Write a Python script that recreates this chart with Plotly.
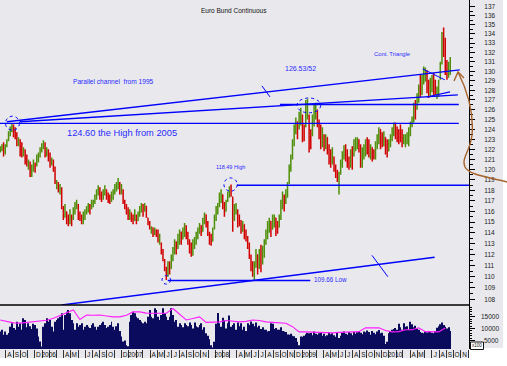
import math
import pandas as pd
import plotly.graph_objects as go

TITLE = "Euro Bund Continuous"
WEEK_START = "2005-07-08"

opens = [
    121.8, 121.9, 122.5, 121.6, 122.3, 122.9, 123.5, 124.0, 124.3, 123.4,
    123.2, 122.5, 122.9, 121.6, 121.4, 121.9, 120.8, 120.3, 120.7, 119.5,
    120.2, 120.6, 120.4, 121.0, 121.4, 121.9, 122.2, 122.6, 121.4, 121.9,
    121.1, 120.5, 120.9, 120.1, 118.5, 118.7, 117.9, 118.2, 116.4, 115.6,
    116.0, 115.3, 114.9, 115.6, 115.3, 116.0, 116.4, 116.6, 115.8, 115.5,
    114.9, 115.5, 115.9, 116.1, 116.6, 116.3, 116.6, 116.9, 117.3, 117.8,
    118.2, 117.4, 117.2, 117.8, 118.0, 117.4, 117.1, 117.0, 117.6, 117.9,
    118.3, 118.6, 118.7, 117.8, 118.0, 116.9, 116.4, 115.9, 115.4, 115.9,
    115.2, 115.2, 115.6, 115.2, 115.8, 116.2, 116.6, 116.0, 116.5, 115.4,
    114.9, 114.1, 114.5, 113.8, 114.3, 113.8, 113.1, 113.0, 112.2, 111.4,
    110.6, 110.1, 111.2, 110.8, 111.8, 112.4, 113.2, 112.6, 113.5, 114.1,
    113.4, 114.0, 114.6, 113.6, 113.1, 112.3, 112.0, 112.9, 113.3, 113.8,
    114.2, 114.7, 114.1, 115.2, 115.7, 114.7, 113.9, 113.2, 113.2, 114.4,
    115.4, 116.1, 116.6, 117.3, 117.6, 116.6, 116.0, 117.0, 117.6, 118.3,
    117.4, 115.2, 116.2, 116.1, 115.3, 115.0, 114.1, 114.8, 113.8, 113.3,
    113.0, 111.9, 110.8, 110.1, 111.1, 112.0, 110.8, 112.4, 111.2, 112.2,
    113.2, 113.8, 114.5, 115.1, 114.3, 115.0, 115.4, 114.5, 114.5, 115.5,
    116.7, 117.5, 116.8, 117.8, 118.7, 120.2, 121.2, 122.7, 124.0, 124.8,
    124.0, 125.1, 125.4, 123.8, 124.4, 125.5, 125.4, 122.8, 123.4, 125.0,
    125.8, 126.0, 124.8, 123.6, 122.4, 123.4, 122.1, 123.2, 122.0, 121.2,
    120.6, 121.2, 120.3, 119.8, 118.8, 119.7, 120.6, 121.3, 122.3, 121.3,
    120.9, 120.3, 122.0, 121.4, 122.2, 122.4, 123.0, 122.1, 120.4, 121.3,
    121.8, 123.0, 122.2, 121.2, 122.2, 121.5, 121.2, 122.3, 122.9, 124.0,
    123.1, 122.5, 123.2, 122.2, 121.8, 122.5, 123.0, 123.6, 124.6, 123.8,
    123.6, 124.2, 123.5, 122.6, 122.5, 122.8, 122.5, 123.6, 124.4, 125.0,
    126.8, 126.2, 127.0, 129.3, 127.8, 128.9, 129.3, 130.0, 128.6, 127.6,
    128.2, 129.6, 128.5, 127.4, 127.8, 129.3, 131.0, 134.2, 133.0, 131.0,
    129.5, 130.2,
]
highs = [
    122.3, 122.5, 122.7, 122.5, 123.0, 123.8, 124.3, 124.6, 124.5, 124.2,
    123.7, 123.2, 123.0, 122.7, 122.2, 122.0, 121.5, 121.0, 120.8, 120.5,
    121.0, 120.7, 121.5, 121.7, 122.2, 122.6, 122.9, 122.7, 122.2, 122.0,
    121.7, 121.2, 121.0, 120.3, 119.0, 118.8, 118.6, 118.3, 116.5, 116.7,
    116.0, 115.7, 116.2, 115.7, 116.4, 116.9, 117.1, 116.7, 116.0, 115.7,
    116.0, 116.2, 116.5, 116.8, 116.7, 117.1, 117.1, 117.6, 118.1, 118.5,
    118.3, 117.9, 118.1, 118.5, 118.1, 117.8, 117.6, 117.9, 118.1, 118.6,
    118.8, 119.2, 118.8, 118.6, 118.1, 117.1, 116.7, 116.4, 116.2, 115.9,
    115.7, 116.2, 115.7, 116.0, 116.5, 116.8, 116.7, 116.8, 116.5, 115.4,
    115.1, 114.6, 114.5, 114.5, 114.3, 114.3, 113.9, 113.1, 112.5, 111.6,
    110.9, 111.4, 111.4, 112.0, 112.7, 113.4, 113.2, 113.9, 114.3, 114.1,
    114.5, 114.9, 114.7, 114.1, 113.4, 113.1, 113.4, 113.6, 114.1, 114.5,
    114.9, 114.7, 115.4, 115.9, 115.7, 115.1, 114.1, 113.9, 114.5, 115.7,
    116.5, 116.8, 117.8, 118.1, 117.6, 116.9, 117.1, 117.9, 118.4, 118.56,
    117.4, 116.7, 116.8, 116.2, 115.7, 115.2, 115.1, 114.8, 114.3, 113.7,
    113.1, 112.0, 111.4, 111.4, 112.5, 112.0, 112.5, 112.9, 112.8, 113.4,
    114.3, 115.1, 115.4, 115.1, 115.7, 115.7, 115.4, 115.1, 115.7, 117.1,
    117.9, 117.6, 118.1, 118.8, 120.5, 121.5, 123.0, 124.5, 125.2, 124.8,
    125.8, 126.2, 125.5, 124.5, 127.0, 127.1, 125.5, 124.0, 125.5, 126.5,
    126.7, 126.0, 125.0, 124.5, 124.2, 123.5, 123.5, 123.2, 122.5, 122.0,
    122.2, 121.3, 120.5, 120.0, 119.8, 121.0, 121.8, 122.4, 122.5, 122.0,
    121.3, 122.0, 122.3, 123.0, 123.2, 123.2, 123.0, 122.5, 122.2, 122.5,
    123.0, 123.2, 123.0, 122.5, 122.2, 122.0, 122.8, 123.5, 124.2, 124.0,
    123.7, 123.8, 123.2, 123.0, 123.0, 123.5, 124.2, 124.7, 124.7, 124.3,
    124.0, 124.5, 124.0, 123.5, 123.5, 123.7, 124.2, 124.8, 125.3, 126.7,
    127.0, 127.7, 128.6, 129.6, 129.6, 130.5, 130.4, 130.1, 129.1, 129.3,
    129.6, 129.8, 129.1, 128.4, 129.1, 131.0, 134.2, 134.7, 133.6, 131.2,
    131.0, 131.5,
]
lows = [
    121.7, 121.8, 121.3, 121.5, 122.2, 122.8, 123.3, 123.7, 123.2, 123.0,
    122.3, 122.3, 121.3, 121.2, 121.3, 120.5, 120.3, 120.0, 119.3, 119.3,
    119.8, 119.7, 120.3, 120.7, 121.2, 121.7, 122.0, 121.2, 121.3, 120.8,
    120.2, 120.4, 119.8, 118.6, 118.1, 117.8, 117.6, 116.2, 115.2, 115.4,
    114.8, 114.6, 114.8, 114.6, 115.2, 115.7, 116.2, 115.2, 115.1, 114.8,
    114.8, 115.2, 115.7, 115.9, 115.7, 116.2, 116.4, 116.7, 117.1, 117.5,
    117.1, 116.9, 117.1, 117.5, 117.1, 116.8, 116.7, 116.9, 117.1, 117.6,
    117.9, 118.1, 117.6, 117.6, 116.7, 116.2, 115.7, 115.2, 115.2, 115.0,
    114.8, 115.1, 114.8, 115.1, 115.5, 115.9, 115.5, 116.0, 115.4, 114.7,
    114.3, 113.9, 113.6, 113.8, 113.6, 113.1, 112.9, 112.0, 111.4, 110.5,
    109.7, 110.0, 110.2, 110.7, 111.4, 112.0, 112.0, 112.5, 112.9, 112.9,
    113.4, 113.6, 113.4, 112.9, 112.1, 111.8, 111.9, 112.5, 112.9, 113.4,
    113.9, 113.7, 114.1, 114.8, 114.5, 113.7, 112.9, 112.8, 113.2, 114.3,
    115.1, 115.7, 116.4, 116.8, 116.2, 115.5, 116.0, 116.9, 117.3, 117.4,
    114.1, 115.1, 115.7, 114.5, 114.6, 113.9, 114.1, 113.4, 113.2, 112.5,
    111.6, 110.5, 110.0, 109.7, 110.8, 110.2, 110.7, 110.4, 111.1, 111.7,
    112.9, 113.4, 114.0, 113.6, 114.3, 114.5, 113.7, 113.9, 114.5, 115.2,
    116.2, 116.0, 116.7, 117.3, 118.6, 119.8, 121.0, 122.3, 123.5, 123.0,
    124.0, 124.4, 122.7, 122.8, 124.2, 125.0, 121.7, 122.0, 123.3, 124.3,
    125.0, 124.2, 123.0, 122.0, 122.2, 121.8, 122.0, 121.5, 120.5, 120.2,
    120.5, 119.8, 119.2, 118.8, 117.6, 119.5, 120.2, 121.0, 120.8, 120.2,
    120.0, 120.2, 120.0, 121.3, 121.8, 122.0, 121.7, 120.2, 120.2, 121.0,
    121.3, 121.5, 121.2, 121.0, 120.8, 121.0, 121.0, 122.0, 122.5, 122.0,
    122.2, 122.3, 121.5, 121.2, 121.8, 122.2, 122.8, 123.3, 123.0, 122.7,
    122.5, 122.7, 122.2, 122.5, 122.2, 122.5, 122.3, 123.3, 124.2, 124.7,
    125.0, 126.0, 126.7, 127.3, 127.5, 128.6, 128.9, 127.7, 127.2, 127.3,
    127.8, 127.3, 127.5, 127.1, 127.3, 129.1, 130.7, 131.5, 129.6, 129.1,
    129.3, 129.6,
]
closes = [
    122.2, 122.4, 121.5, 122.3, 122.8, 123.6, 124.1, 124.4, 123.4, 123.1,
    122.5, 123.0, 121.5, 121.4, 122.0, 120.7, 120.4, 120.8, 119.5, 120.3,
    120.8, 119.9, 121.3, 121.5, 122.0, 122.4, 122.7, 121.4, 122.0, 121.0,
    120.4, 121.0, 120.0, 118.8, 118.9, 118.0, 118.4, 116.5, 115.4, 116.4,
    115.0, 114.7, 116.0, 114.8, 116.2, 116.8, 117.0, 115.4, 115.2, 114.9,
    115.8, 116.1, 116.4, 116.7, 115.9, 117.0, 117.0, 117.5, 118.0, 118.3,
    117.3, 117.0, 117.9, 118.3, 117.3, 117.0, 116.8, 117.7, 118.0, 118.4,
    118.7, 119.0, 117.8, 118.4, 116.8, 116.3, 115.8, 115.3, 116.0, 115.1,
    114.9, 116.0, 114.9, 115.9, 116.4, 116.7, 115.7, 116.7, 115.5, 114.8,
    114.4, 114.5, 113.7, 114.4, 113.7, 113.2, 113.8, 112.1, 111.5, 110.6,
    110.0, 111.2, 110.4, 111.9, 112.5, 113.2, 112.1, 113.7, 114.2, 113.1,
    114.3, 114.7, 113.5, 113.0, 112.2, 112.0, 113.2, 113.4, 114.0, 114.4,
    114.8, 113.8, 115.3, 115.8, 114.6, 113.8, 113.0, 112.9, 114.3, 115.6,
    116.3, 116.7, 117.6, 118.0, 116.4, 115.7, 117.0, 117.8, 118.2, 117.5,
    114.5, 116.5, 116.7, 114.7, 114.8, 114.0, 115.0, 113.5, 113.3, 112.6,
    111.8, 110.7, 110.1, 111.2, 112.3, 110.5, 112.2, 110.6, 112.6, 113.2,
    114.1, 114.9, 115.2, 113.8, 115.5, 115.6, 114.0, 114.0, 115.5, 116.9,
    117.6, 116.2, 117.9, 118.6, 120.3, 121.3, 122.8, 124.2, 125.0, 123.2,
    125.6, 126.0, 123.0, 123.0, 126.6, 126.8, 122.0, 122.3, 125.2, 126.2,
    126.5, 124.5, 123.2, 122.3, 123.9, 122.0, 123.3, 121.7, 120.8, 120.4,
    122.0, 120.0, 119.4, 119.0, 119.6, 120.8, 121.6, 122.2, 121.0, 120.4,
    120.1, 121.8, 120.3, 122.8, 123.0, 123.1, 121.9, 120.5, 121.9, 122.3,
    122.8, 121.7, 121.4, 122.3, 121.0, 121.1, 122.6, 123.3, 124.0, 122.3,
    122.4, 123.6, 121.7, 121.4, 122.8, 123.3, 124.0, 124.5, 123.2, 122.9,
    122.7, 122.9, 122.4, 123.3, 123.3, 123.5, 124.0, 124.6, 125.1, 126.5,
    125.3, 127.5, 128.3, 127.6, 129.3, 130.2, 130.2, 128.0, 127.5, 129.0,
    129.4, 127.6, 127.7, 128.2, 128.9, 130.7, 133.9, 131.8, 130.0, 129.4,
    130.7, 131.2,
]
volume = [
    8800, 9500, 7400, 8800, 7400, 8100, 10800, 12200, 10200, 9500,
    12900, 10800, 12200, 9500, 14300, 13600, 10500, 12200, 11000, 9800,
    12000, 11500, 10000, 6700, 4600, 2500, 10800, 12200, 14300, 12900,
    13600, 10800, 8800, 12900, 13600, 14300, 15000, 16400, 9500, 15700,
    17100, 17800, 16400, 13600, 12200, 9500, 12200, 10800, 11500, 12200,
    9500, 10800, 11500, 10800, 10200, 11500, 12200, 10800, 9500, 10800,
    11500, 12200, 12900, 11500, 10200, 10800, 11500, 12900, 10800, 9500,
    11000, 12200, 9000, 6700, 4600, 5000, 3000, 2600, 12900, 15700,
    17100, 16400, 15000, 14300, 13600, 12900, 12200, 12900, 12200, 15000,
    17800, 15000, 14300, 18500, 17800, 15000, 13600, 15700, 18500, 16400,
    15000, 13600, 15000, 18500, 15700, 12900, 13600, 10800, 12200, 11500,
    10500, 12200, 11500, 11000, 12500, 11500, 10000, 12500, 11000, 10500,
    11500, 12200, 9500, 10500, 8000, 7000, 5500, 3000, 2000, 4500,
    12000, 16500, 12200, 10800, 14500, 13500, 10000, 12200, 15500, 10800,
    11500, 12200, 9500, 12500, 11000, 12200, 9500, 10800, 9000, 12200,
    11500, 13000, 12000, 11000, 12500, 10500, 11200, 9800, 10500, 9500,
    9500, 8800, 9000, 12200, 12000, 9800, 10200, 9500, 9500, 10500,
    9000, 8800, 8500, 7500, 7400, 7800, 7000, 6800, 6000, 4500,
    3000, 6700, 6500, 7000, 7600, 8200, 8000, 8100, 7200, 8800,
    7800, 7400, 8000, 8600, 7000, 7800, 6800, 7200, 8400, 7600,
    8000, 7200, 6500, 8600, 6000, 7000, 8200, 8800, 7800, 7400,
    8500, 8000, 7200, 8600, 7800, 8400, 9000, 8200, 7600, 8800,
    8400, 9200, 8600, 7400, 9000, 8200, 7600, 8800, 9400, 8000,
    8200, 7000, 3500, 4500, 8000, 9000, 9500, 9800, 10200, 9500,
    12000, 10500, 9500, 12200, 10800, 11000, 9500, 12900, 11800, 10500,
    11200, 10000, 9500, 8500, 8200, 8000, 8800, 8300, 9000, 8500,
    8200, 8000, 9000, 10300, 11000, 11800, 12500, 11500, 10800, 10000,
    10500, 9000,
]
# volume average line, read every 4th week
volume_avg = [
    13600, 13000, 12400, 12300, 12600, 12800, 12900, 13500, 14300, 15500,
    16800, 17800, 13800, 15700, 15600, 15700, 15300, 14900, 14900, 15600,
    17000, 17000, 16500, 16500, 16500, 16400, 18400, 16000, 13600, 14200,
    14900, 12600, 12600, 12800, 13400, 13200, 12800, 13000, 13600, 13400,
    12800, 12600, 12400, 12200, 10800, 8600, 8600, 8500, 8200, 8200,
    8200, 8400, 8600, 8600, 8700, 10300, 10300, 10300, 9200, 8600,
    8700, 9500, 9500, 10300, 8700, 8600, 8600, 10200,
]

price_ticks = list(range(108, 138))
volume_ticks = [5000, 10000, 15000]

tick_months = ["2005-08", "2005-09", "2005-10", "2005-12",
               "2006-01", "2006-04", "2006-05", "2006-07", "2006-08", "2006-09", "2006-10", "2006-12",
               "2007-01", "2007-04", "2007-05", "2007-06", "2007-07", "2007-08", "2007-09", "2007-10", "2007-11",
               "2008-01", "2008-04", "2008-05", "2008-06", "2008-07", "2008-08", "2008-09", "2008-10", "2008-11", "2008-12",
               "2009-01", "2009-04", "2009-05", "2009-06", "2009-07", "2009-08", "2009-09", "2009-10", "2009-11", "2009-12",
               "2010-01", "2010-04", "2010-05", "2010-07", "2010-08", "2010-09", "2010-10", "2010-11"]
tick_text = ["A", "S", "O", "D",
             "2006", "A", "M", "J", "A", "S", "O", "D",
             "2007", "A", "M", "J", "J", "A", "S", "O", "N",
             "2008", "A", "M", "J", "J", "A", "S", "O", "N", "D",
             "2009", "A", "M", "J", "J", "A", "S", "O", "N", "D",
             "2010", "A", "M", "J", "A", "S", "O", "N"]

# annotation levels (price) and drawn lines (date, price)
level_2005_high = 124.60
level_126 = 126.53
level_2008_high = 118.49
level_2008_low = 109.66
channel_upper = (["2005-08-05", "2010-10-27"], [124.77, 130.14])
channel_middle = (["2005-09-29", "2010-10-19"], [124.77, 127.53])
channel_lower = (["2006-03-24", "2010-07-13"], [107.5, 111.75])
triangle_upper = (["2010-05-24", "2010-08-25"], [130.25, 129.09])
triangle_lower = (["2010-06-10", "2010-09-16"], [127.30, 127.84])
mark_upper = (["2008-07-15", "2008-08-18"], [128.46, 127.32])
mark_lower = (["2009-10-22", "2009-12-28"], [111.93, 110.00])
seg_2005_high = (["2005-07-07", "2010-10-23"], [level_2005_high, level_2005_high])
seg_126 = (["2008-09-29", "2010-10-23"], [level_126, level_126])
seg_2008_high = (["2008-04-01", "2010-12-05"], [level_2008_high, level_2008_high])
seg_2008_low = (["2007-06-14", "2009-02-04"], [level_2008_low, level_2008_low])
circles = [  # (date0, date1, price_low, price_high)
    ("2005-07-30", "2005-09-27", 123.91, 125.33),
    ("2008-02-06", "2008-04-02", 117.92, 119.20),
    ("2007-05-21", "2007-06-26", 109.34, 110.10),
    ("2008-12-10", "2009-03-20", 125.68, 127.20),
]

X_RANGE = ["2005-07-07", "2010-12-05"]
Y_RANGE = [107.5, 137.75]
VOL_RANGE = [1400, 19900]

# ---------------------------------------------------------------
weeks = pd.date_range(WEEK_START, periods=len(closes), freq="7D")
avg_dates = weeks[::4][:len(volume_avg)]

W, H = 507, 366
ML, MR, MT, MB = 0, 38, 0, 17
PW, PH = W - ML - MR, H - MT - MB
SPLIT = 1 - 305 / PH

BG = "#e9e9ed"
GREEN = "#4f8f0a"
RED = "#d00000"
BLUE = "#0000ff"
TXT_BLUE = "#2a2aff"
FONT = "Liberation Sans, Arial, sans-serif"


def P(x, y):
    return x / PW, 1 - y / PH


fig = go.Figure()
fig.add_trace(go.Ohlc(
    x=weeks, open=opens, high=highs, low=lows, close=closes,
    increasing=dict(line=dict(color=GREEN, width=1.5)),
    decreasing=dict(line=dict(color=RED, width=1.5)),
    tickwidth=0.25, xaxis="x", yaxis="y", showlegend=False))

fig.add_trace(go.Bar(x=weeks[:len(volume)], y=volume, marker=dict(color="#0b0b5e", line=dict(width=0)),
                     xaxis="x", yaxis="y2", showlegend=False))
fig.add_trace(go.Scatter(x=avg_dates, y=volume_avg, mode="lines", line=dict(color="#ff1cff", width=1.1),
                         xaxis="x", yaxis="y2", showlegend=False))

for seg, w in [(channel_upper, 1.4), (channel_middle, 1.4), (channel_lower, 1.4),
               (triangle_upper, 1.1), (triangle_lower, 1.1), (mark_upper, 1.0), (mark_lower, 1.0),
               (seg_2005_high, 1.4), (seg_126, 1.4), (seg_2008_high, 1.4), (seg_2008_low, 1.4)]:
    fig.add_trace(go.Scatter(x=seg[0], y=seg[1], mode="lines", line=dict(color=BLUE, width=w),
                             xaxis="x", yaxis="y", showlegend=False, hoverinfo="skip"))

shapes = []
for d0, d1, p0, p1 in circles:
    shapes.append(dict(type="circle", xref="x", yref="y", x0=d0, x1=d1, y0=p0, y1=p1,
                       line=dict(color=BLUE, width=1, dash="dot")))

# separator between price and volume panes
shapes.append(dict(type="line", xref="paper", yref="paper", x0=0, x1=1, y0=SPLIT, y1=SPLIT,
                   line=dict(color="black", width=1.3)))
# gray panels around axes
shapes.append(dict(type="rect", xref="paper", yref="paper", x0=1, x1=503 / PW, y0=1 - 348 / PH, y1=1,
                   fillcolor=BG, line=dict(width=0), layer="below"))
shapes.append(dict(type="rect", xref="paper", yref="paper", x0=0, x1=1, y0=1 - 358 / PH, y1=0,
                   fillcolor=BG, line=dict(width=0), layer="below"))
# x100 box
bx0, by0 = P(470.5, 349.5)
bx1, by1 = P(483.5, 342)
shapes.append(dict(type="rect", xref="paper", yref="paper", x0=bx0, x1=bx1, y0=by0, y1=by1,
                   fillcolor="white", line=dict(color="#111", width=1)))


def path(cmds):
    out = []
    for c in cmds:
        if isinstance(c, str):
            out.append(c)
        else:
            x, y = P(*c)
            out.append(f"{x:.5f},{y:.5f}")
    return " ".join(out)


arrow_curve = path(["M", (458, 72), "C", (466, 88), (474, 112), (472, 135),
                    "C", (470, 152), (461, 158), (465, 167),
                    "C", (469, 175), (488, 177), (507, 182)])
arrow_head = path(["M", (454, 81), "L", (458, 72), "L", (464, 78)])
for p in (arrow_curve, arrow_head):
    shapes.append(dict(type="path", xref="paper", yref="paper", path=p,
                       line=dict(color="#a5622a", width=1.4)))

annotations = []


def label(text, x, y, size, color=TXT_BLUE, **kw):
    px, py = P(x, y)
    annotations.append(dict(text=text, x=px, y=py, xref="paper", yref="paper", showarrow=False,
                            xanchor="center", yanchor="middle",
                            font=dict(family=FONT, size=size, color=color), **kw))


label(TITLE, 234, 10, 6.5, color="#111")
label("Cont. Triangle", 392, 54, 5.8)
label("Parallel channel  from 1995", 113, 82, 6.6)
label("124.60 the High from 2005", 122, 133, 9.3)
label("126.53/52", 300, 68, 7)
label("118.49 High", 230, 167, 5.5)
label("109.66 Low", 330, 279, 6.3)
label("x100", 477, 345.8, 4.5, color="#111")

# right-aligned volume axis labels
for v in volume_ticks:
    annotations.append(dict(text=str(v), x=501 / PW, y=v, xref="paper", yref="y2", showarrow=False,
                            xanchor="right", yanchor="middle",
                            font=dict(family=FONT, size=6.5, color="#222")))

x_tickvals = [pd.Timestamp(m + "-01") + pd.Timedelta(days=(27 if t.isdigit() else 15))
              for m, t in zip(tick_months, tick_text)]

fig.update_layout(
    width=W, height=H, margin=dict(l=ML, r=MR, t=MT, b=MB, autoexpand=False),
    paper_bgcolor="white", plot_bgcolor=BG, bargap=0.4, hovermode=False,
    showlegend=False, font=dict(family=FONT, size=7, color="#111"),
    shapes=shapes, annotations=annotations,
    xaxis=dict(domain=[0, 1], anchor="y2", type="date", range=X_RANGE, automargin=False,
               tickmode="array", tickvals=x_tickvals, ticktext=tick_text, ticks="", tickangle=0,
               tickfont=dict(size=6.5, color="#111"), showgrid=False, zeroline=False, showline=False,
               rangeslider=dict(visible=False),
               minor=dict(tickmode="linear", tick0="2005-07-01", dtick="M1", ticks="outside",
                          ticklen=8, tickcolor="#333", tickwidth=1, showgrid=False)),
    yaxis=dict(domain=[SPLIT, 1], anchor="x", side="right", type="log", automargin=False,
               range=[math.log10(Y_RANGE[0]), math.log10(Y_RANGE[1])],
               tickmode="array", tickvals=price_ticks, ticktext=[str(v) for v in price_ticks],
               ticks="outside", ticklen=5, tickcolor="black", showline=True, linecolor="black",
               linewidth=1, showgrid=False, zeroline=False, tickfont=dict(size=6.5, color="#222"),
               ticklabelstandoff=8,
               minor=dict(tickmode="array", tickvals=[v + 0.5 for v in price_ticks[:-1]],
                          ticks="outside", ticklen=3, tickcolor="black", showgrid=False)),
    yaxis2=dict(domain=[0, SPLIT], anchor="x", side="right", range=VOL_RANGE, automargin=False,
                tickmode="array", tickvals=volume_ticks, showticklabels=False,
                ticks="outside", ticklen=5, tickcolor="black", showline=True, linecolor="black",
                linewidth=1, showgrid=False, zeroline=False,
                minor=dict(tickmode="linear", tick0=0, dtick=1000, ticks="outside", ticklen=2,
                           tickcolor="black", showgrid=False)),
)

fig.write_html("out.html", config={"displayModeBar": False},
               post_script="document.body.style.margin='0px';")
